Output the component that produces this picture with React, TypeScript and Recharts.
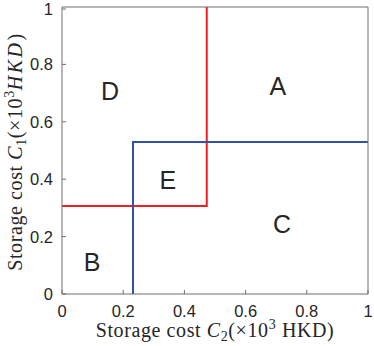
import { ComposedChart, Line, Scatter, XAxis, YAxis } from "recharts"

const TICKS = [0, 0.2, 0.4, 0.6, 0.8, 1]
const TICK_LABELS = ["0", "0.2", "0.4", "0.6", "0.8", "1"]

// boundary lines (x = C2, y = C1)
const redX = [0.473, 0.473, 0]
const redY = [1, 0.307, 0.307]
const blueX = [0.232, 0.232, 1]
const blueY = [0, 0.53, 0.53]

// region labels
const regionNames = ["A", "B", "C", "D", "E"]
const regionX = [0.705, 0.098, 0.719, 0.157, 0.346]
const regionY = [0.725, 0.111, 0.244, 0.707, 0.397]

const redData = redX.map((x, i) => ({ x, y: redY[i] }))
const blueData = blueX.map((x, i) => ({ x, y: blueY[i] }))
const regionData = regionNames.map((name, i) => ({ name, x: regionX[i], y: regionY[i] }))

const INK = "#262626"
const AXIS = "#6f6f6f"
const TICK_FONT = "'Liberation Sans', Arial, sans-serif"
const SERIF = "'Liberation Serif', 'Times New Roman', serif"

const labelOf = (v: number) => TICK_LABELS[TICKS.indexOf(v)] ?? String(v)

function BottomTick(props: any) {
  const { x, y, payload } = props
  return (
    <g>
      <line x1={x} y1={y} x2={x} y2={y - 4} stroke={AXIS} />
      <text x={x} y={y + 23} textAnchor="middle" fontSize={16.5} fill={INK} fontFamily={TICK_FONT}>
        {labelOf(payload.value)}
      </text>
    </g>
  )
}

function TopTick(props: any) {
  const { x, y } = props
  return <line x1={x} y1={y} x2={x} y2={y + 4} stroke={AXIS} />
}

function LeftTick(props: any) {
  const { x, y, payload } = props
  return (
    <g>
      <line x1={x} y1={y} x2={x + 4} y2={y} stroke={AXIS} />
      <text x={x - 9} y={y + 6} textAnchor="end" fontSize={16.5} fill={INK} fontFamily={TICK_FONT}>
        {labelOf(payload.value)}
      </text>
    </g>
  )
}

function RightTick(props: any) {
  const { x, y } = props
  return <line x1={x} y1={y} x2={x - 4} y2={y} stroke={AXIS} />
}

function RegionLabel(props: any) {
  const { cx, cy, payload } = props
  return (
    <text x={cx} y={cy + 9} textAnchor="middle" fontSize={25} fill={INK} fontFamily={TICK_FONT}>
      {payload.name}
    </text>
  )
}

function XTitle() {
  return (
    <text x={215} y={337} textAnchor="middle" fontSize={20} letterSpacing={0.6} fill={INK} fontFamily={SERIF}>
      Storage cost <tspan fontStyle="italic">C</tspan>
      <tspan fontSize={14} dy={4}>2</tspan>
      <tspan dy={-4}>(×10</tspan>
      <tspan fontSize={14} dy={-8}>3</tspan>
      <tspan dy={8}> HKD)</tspan>
    </text>
  )
}

function YTitle() {
  return (
    <text
      x={0}
      y={0}
      transform="translate(22,152) rotate(-90)"
      textAnchor="middle"
      fontSize={20}
      letterSpacing={0.6}
      fill={INK}
      fontFamily={SERIF}
    >
      Storage cost <tspan fontStyle="italic">C</tspan>
      <tspan fontSize={14} dy={4}>1</tspan>
      <tspan dy={-4}>(×10</tspan>
      <tspan fontSize={14} dy={-8}>3</tspan>
      <tspan dy={8} fontStyle="italic" letterSpacing={2.5}>HKD</tspan>
      <tspan>)</tspan>
    </text>
  )
}

export default function App() {
  return (
    <div style={{ position: "absolute", left: 0, top: 0, width: 374, height: 346, background: "#fff" }}>
      <ComposedChart width={374} height={346} margin={{ top: 6, right: 5, left: 0, bottom: 0 }}>
        <XAxis
          xAxisId="b"
          dataKey="x"
          type="number"
          domain={[0, 1]}
          ticks={TICKS}
          height={52}
          tickLine={false}
          tickSize={0}
          tickMargin={0}
          tick={<BottomTick />}
          stroke={AXIS}
          allowDataOverflow
        />
        <XAxis
          xAxisId="t"
          dataKey="x"
          type="number"
          orientation="top"
          domain={[0, 1]}
          ticks={TICKS}
          height={1}
          tickLine={false}
          tickSize={0}
          tickMargin={0}
          tick={<TopTick />}
          stroke={AXIS}
        />
        <YAxis
          yAxisId="l"
          dataKey="y"
          type="number"
          domain={[0, 1]}
          ticks={TICKS}
          width={62}
          tickLine={false}
          tickSize={0}
          tickMargin={0}
          tick={<LeftTick />}
          stroke={AXIS}
          allowDataOverflow
        />
        <YAxis
          yAxisId="r"
          dataKey="y"
          type="number"
          orientation="right"
          domain={[0, 1]}
          ticks={TICKS}
          width={1}
          tickLine={false}
          tickSize={0}
          tickMargin={0}
          tick={<RightTick />}
          stroke={AXIS}
        />
        <Line
          xAxisId="b"
          yAxisId="l"
          data={redData}
          dataKey="y"
          type="linear"
          stroke="#f01e1e"
          strokeWidth={2}
          dot={false}
          isAnimationActive={false}
        />
        <Line
          xAxisId="b"
          yAxisId="l"
          data={blueData}
          dataKey="y"
          type="linear"
          stroke="#2f52a6"
          strokeWidth={2}
          dot={false}
          isAnimationActive={false}
        />
        <Scatter
          xAxisId="b"
          yAxisId="l"
          data={regionData}
          dataKey="y"
          shape={<RegionLabel />}
          isAnimationActive={false}
        />
        <XTitle />
        <YTitle />
      </ComposedChart>
    </div>
  )
}
